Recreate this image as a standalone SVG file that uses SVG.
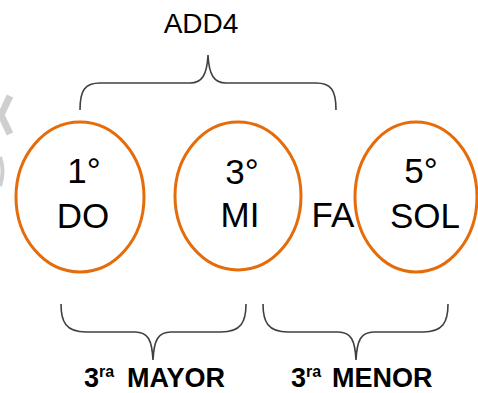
<svg xmlns="http://www.w3.org/2000/svg" width="478" height="393" viewBox="0 0 478 393">
<style>
.ell{fill:#fff;stroke:#E46C0A;stroke-width:3}
.t{font-family:"Liberation Sans",Arial,sans-serif;font-size:35px;fill:#000;text-anchor:middle}
.brace{fill:none;stroke:#404040;stroke-width:1.6}
.lbl{font-family:"Liberation Sans",Arial,sans-serif;font-size:27px;font-weight:bold;fill:#000}
.sup{font-size:16px}
</style>
<rect width="478" height="393" fill="#fff"/>
<g id="watermark" fill="none" stroke="#cfcfcf">
<path d="M10,96 L1,115 L10,134" stroke-width="7"/>
<path d="M0,157 Q5,171 0,186" stroke-width="4"/>
</g>
<g id="connectors">
<path class="brace" d="M80,110 C80,90 85,83 100,83 L190,83 C202,83 207,75 208,55 C209,75 214,83 226,83 L316,83 C331,83 336,90 336,110"/>
<path class="brace" d="M61,304 C61,322 66,332 86,332 L135,332 C148,332 152,340 153,360 C154,340 158,332 171,332 L221,332 C241,332 246,322 246,304"/>
<path class="brace" d="M263,304 C263,322 268,332 288,332 L338,332 C351,332 355,340 356,360 C357,340 361,332 374,332 L423,332 C443,332 448,322 448,304"/>
</g>
<g id="add4"><text x="201" y="33" style="font-family:'Liberation Sans',Arial,sans-serif;font-size:28px;fill:#000;text-anchor:middle">ADD4</text></g>
<g id="do">
<ellipse class="ell" cx="80" cy="197" rx="64" ry="75"/>
<text class="t" x="84" y="183">1°</text>
<text class="t" x="83" y="228">DO</text>
</g>
<g id="mi">
<ellipse class="ell" cx="238" cy="196" rx="63" ry="74"/>
<text class="t" x="242" y="184">3°</text>
<text class="t" x="240" y="227">MI</text>
</g>
<g id="fa"><text class="t" x="333" y="227">FA</text></g>
<g id="sol">
<ellipse class="ell" cx="416" cy="197" rx="61" ry="75"/>
<text class="t" x="421" y="183">5°</text>
<text class="t" x="425" y="228">SOL</text>
</g>
<g id="mayor"><text class="lbl" x="84" y="387">3<tspan class="sup" dy="-10">ra</tspan><tspan x="127" dy="10">MAYOR</tspan></text></g>
<g id="menor"><text class="lbl" x="291" y="387">3<tspan class="sup" dy="-10">ra</tspan><tspan x="332" dy="10">MENOR</tspan></text></g>
</svg>
